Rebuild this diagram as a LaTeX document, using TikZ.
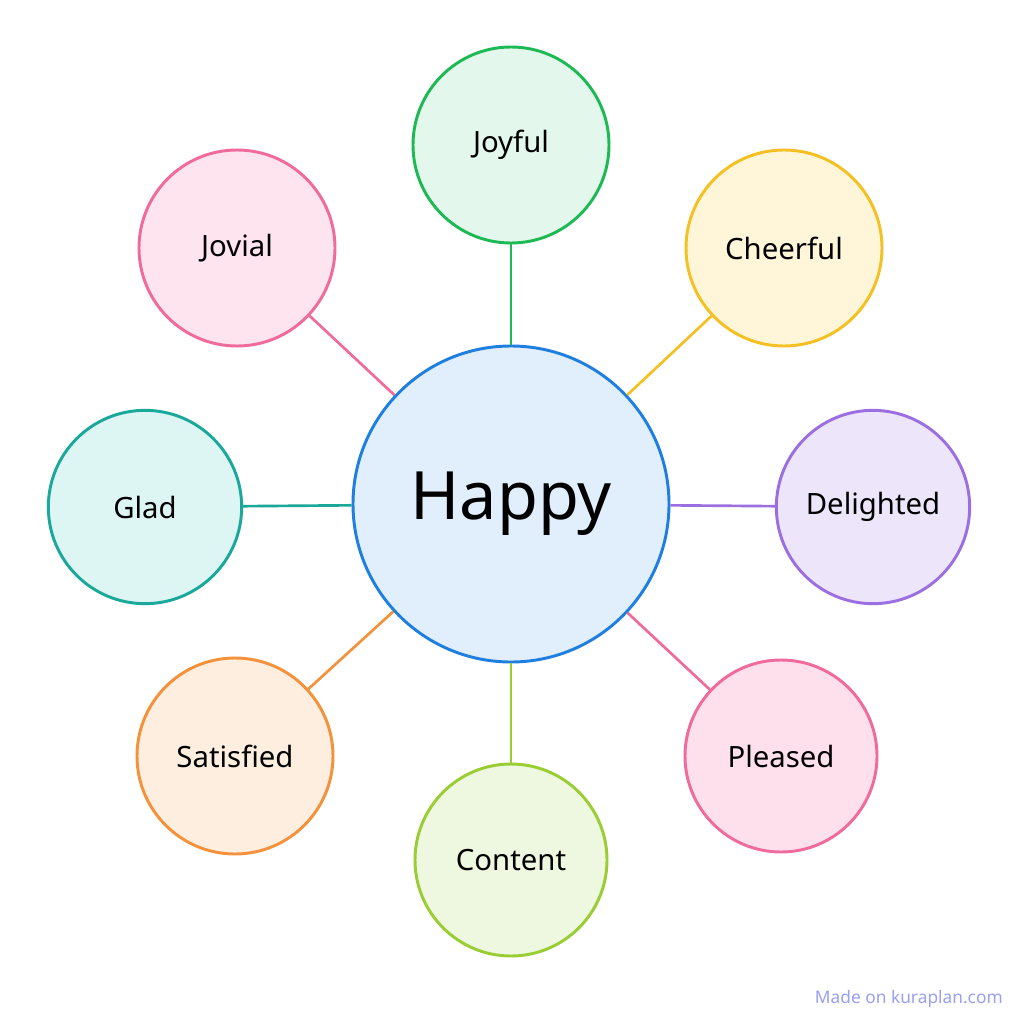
\documentclass[tikz,border=0pt]{standalone}
\usepackage{fontspec}
\setmainfont{Noto Sans}
\begin{document}
\begin{tikzpicture}[x=0.75pt,y=-0.75pt,
 sat/.style={circle,line width=2.2pt,inner sep=0pt,font=\fontsize{22}{26}\selectfont},
 link/.style={line width=2pt}]
\useasboundingbox (0,0) rectangle (1024,1024);
\fill[white] (0,0) rectangle (1024,1024);
\definecolor{cJoy}{HTML}{1DB954}\definecolor{fJoy}{HTML}{E3F7EC}
\definecolor{cChe}{HTML}{F5C021}\definecolor{fChe}{HTML}{FFF5D9}
\definecolor{cJov}{HTML}{F06A9B}\definecolor{fJov}{HTML}{FDE4EE}
\definecolor{cGla}{HTML}{1AA89A}\definecolor{fGla}{HTML}{DDF5F3}
\definecolor{cDel}{HTML}{9B6FE0}\definecolor{fDel}{HTML}{EDE5FA}
\definecolor{cSat}{HTML}{F3923A}\definecolor{fSat}{HTML}{FEEEDF}
\definecolor{cCon}{HTML}{9ACD32}\definecolor{fCon}{HTML}{EEF7DF}
\definecolor{cPle}{HTML}{F06A9B}\definecolor{fPle}{HTML}{FDE0EC}
\definecolor{cHap}{HTML}{1E7FE0}\definecolor{fHap}{HTML}{E1EEFC}
\definecolor{wm}{HTML}{9AA0F5}
\node[sat,draw=cHap,fill=fHap,minimum size=237pt,font=\fontsize{50}{56}\selectfont] (hap) at (511,504) {Happy};
\node[sat,draw=cJoy,fill=fJoy,minimum size=147pt] (joy) at (511,145) {Joyful};
\node[sat,draw=cChe,fill=fChe,minimum size=147pt] (che) at (784,248) {Cheerful};
\node[sat,draw=cJov,fill=fJov,minimum size=147pt] (jov) at (237,248) {Jovial};
\node[sat,draw=cGla,fill=fGla,minimum size=145pt] (gla) at (145,507) {Glad};
\node[sat,draw=cDel,fill=fDel,minimum size=145pt] (del) at (873,507) {Delighted};
\node[sat,draw=cSat,fill=fSat,minimum size=147pt] (sat) at (235,756) {Satisfied};
\node[sat,draw=cCon,fill=fCon,minimum size=144pt] (con) at (511,860) {Content};
\node[sat,draw=cPle,fill=fPle,minimum size=144pt] (ple) at (781,756) {Pleased};
\draw[link,cJoy] (hap) -- (joy);
\draw[link,cChe] (hap) -- (che);
\draw[link,cJov] (hap) -- (jov);
\draw[link,cGla] (hap) -- (gla);
\draw[link,cDel] (hap) -- (del);
\draw[link,cSat] (hap) -- (sat);
\draw[link,cCon] (hap) -- (con);
\draw[link,cPle] (hap) -- (ple);
\node[anchor=east,text=wm,font=\fontsize{13}{15}\selectfont\bfseries,inner sep=0pt] (wmk) at (1003,999) {Made on kuraplan.com};
\end{tikzpicture}
\end{document}
